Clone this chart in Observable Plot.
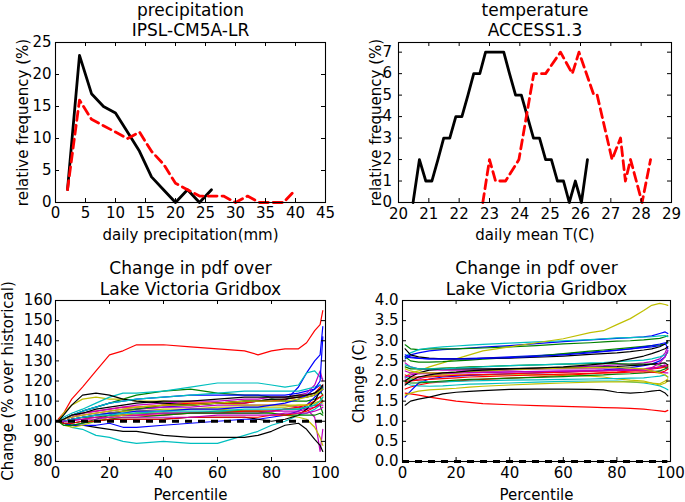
<!DOCTYPE html>
<html><head><meta charset="utf-8">
<script src="https://cdn.jsdelivr.net/npm/d3@7"></script>
<script src="https://cdn.jsdelivr.net/npm/@observablehq/plot@0.6"></script>
<style>
body{margin:0;background:#fff;}
#wrap{position:relative;width:685px;height:502px;overflow:hidden;background:#fff;}
#wrap > div{position:absolute;}
</style></head><body><div id="wrap"></div>
<script>
// ---------- top-left: precipitation pdf ----------
const PRECIP_HIST_X = [2,4,6,8,10,12,14,16,18,20,22,24,26];
const PRECIP_HIST   = [2,23,17,15,14,11,8,4,2,0,2,0,2];
const PRECIP_FUT_X  = [2,4,6,8,10,12,14,16,18,20,22,24,26,28,30,32,34,36,38,40];
const PRECIP_FUT    = [2,16,13,12,11,10,11,8,6,3,2,1,1,1,0,1,0,0,0,2];
const PRECIP_XTICKS = [0,5,10,15,20,25,30,35,40,45];
const PRECIP_YTICKS = [0,5,10,15,20,25];

// ---------- top-right: temperature pdf ----------
const TEMP_HIST_X = [20.48,20.69,20.90,21.10,21.30,21.49,21.69,21.89,22.09,22.29,22.48,22.68,22.87,23.07,23.27,23.47,23.66,23.86,24.05,24.25,24.45,24.65,24.85,25.04,25.24,25.44,25.63,25.83,26.03,26.23];
const TEMP_HIST   = [0,2,1,1,2,3,3,4,4,5,6,6,7,7,7,7,6,5,5,4,3,3,2,2,1,1,0,1,0,2];
const TEMP_FUT_X  = [22.78,23.00,23.20,23.53,23.97,24.46,24.85,25.34,25.73,25.95,26.44,26.55,27.04,27.32,27.48,27.65,28.03,28.31];
const TEMP_FUT    = [0,2,1,1,2,6,6,7,6,7,5,5,2,3,1,2,0,2];
const TEMP_XTICKS = [20,21,22,23,24,25,26,27,28,29];
const TEMP_YTICKS = [0,1,2,3,4,5,6,7];

// ---------- bottom panels: change in pdf by percentile ----------
const PCT = [1,3,6,10,15,20,25,30,40,50,60,70,75,80,85,90,93,96,98,99];
const PCT_TICKS = [0,20,40,60,80,100];
const PR_REF = 100;
const PR_YTICKS = [80,90,100,110,120,130,140,150,160];
const PR_NAMES = ["b1","g1","r1","c1","m1","y1","k1","b2","g2","r2","c2","m2","y2","k2","b3","g3","r3","c3","m3","y3","k3","b4","g4","r4","c4","m4","y4","k4"];
const PR_VALUES = [
 [100,100,101,102,103,104,105,106,107,108,109,109,110,110,110,117,124,130,133,147],
 [100,101,103,105,107,109,111,113,115,116,114,113,113,112,112,112,113,114,115,113],
 [101,104,111,117,125,133,135,138,138,137,136,135,133,135,136,136,139,145,148,155],
 [100,99,97,96,93,92,90,89,90,89,89,93,95,98,100,103,104,106,108,110],
 [100,101,102,103,104,105,106,106,107,107,108,108,108,108,108,107,106,102,85,96],
 [100,104,108,111,112,111,111,110,110,109,109,108,108,108,108,108,108,109,110,109],
 [100,99,98,98,97,96,95,95,93,92,92,92,93,95,98,99,96,91,88,85],
 [100,101,103,105,107,109,110,111,112,113,113,113,113,113,113,114,115,116,118,117],
 [100,99,98,99,101,103,105,106,108,108,109,110,110,111,110,110,110,111,112,110],
 [100,101,103,104,105,106,107,107,108,109,109,109,110,110,111,112,113,114,117,118],
 [100,102,104,106,109,112,114,114,115,117,119,119,119,118,117,118,124,125,122,121],
 [100,101,102,104,105,106,107,108,109,110,110,111,111,112,112,113,114,118,125,120],
 [100,100,101,102,103,104,105,105,106,106,106,105,105,104,103,102,101,97,92,88],
 [100,103,108,113,114,113,111,110,109,108,109,110,110,111,111,112,112,113,115,117],
 [100,99,98,98,98,99,97,97,98,99,100,101,101,102,103,105,108,112,114,116],
 [100,100,101,102,102,103,103,104,104,104,105,105,105,105,106,106,107,108,108,104],
 [100,100,101,101,102,102,103,103,103,104,104,105,105,105,106,107,108,110,112,113],
 [100,101,103,105,107,109,110,111,112,113,114,115,115,115,115,115,116,117,118,116],
 [100,100,101,101,102,102,103,103,104,104,104,104,104,105,105,105,106,107,108,108],
 [100,98,97,98,100,102,103,104,105,106,107,107,107,107,107,108,108,109,110,112],
 [100,99,99,100,100,101,101,101,101,102,102,102,101,100,101,103,106,110,115,116],
 [100,100,101,102,103,104,104,105,105,106,106,107,107,108,109,111,113,116,120,142],
 [100,98,98,99,100,101,102,102,103,104,104,104,104,104,103,103,103,103,104,103],
 [100,99,99,100,100,101,101,101,101,102,102,102,102,103,103,104,105,107,109,110],
 [100,100,101,102,103,103,104,104,105,105,105,106,106,106,106,106,107,108,110,112],
 [100,100,100,101,101,102,102,102,102,102,103,103,103,103,104,104,104,105,106,107],
 [100,101,102,103,104,105,106,107,108,108,109,110,110,110,110,111,112,113,115,116],
 [100,101,103,104,106,107,108,109,110,110,111,112,112,112,112,113,113,114,116,118]
];
const TAS_REF = 0;
const TAS_YTICKS = [0,0.5,1,1.5,2,2.5,3,3.5,4];
const TAS_NAMES = PR_NAMES;
const TAS_VALUES = [
 [2.55,2.65,2.7,2.75,2.78,2.8,2.82,2.84,2.88,2.93,2.98,3.02,3.04,3.06,3.08,3.1,3.12,3.18,3.22,3.18],
 [2.9,2.8,2.78,2.8,2.8,2.8,2.81,2.82,2.85,2.88,2.92,2.95,2.97,2.99,3.0,3.02,3.04,3.06,3.1,3.12],
 [1.7,1.68,1.65,1.6,1.55,1.5,1.47,1.44,1.41,1.39,1.37,1.35,1.34,1.33,1.32,1.3,1.28,1.26,1.24,1.27],
 [2.6,2.7,2.78,2.82,2.85,2.87,2.89,2.91,2.94,2.97,3.0,3.03,3.05,3.07,3.08,3.09,3.1,3.12,3.13,3.1],
 [2.05,2.0,2.05,2.12,2.17,2.2,2.22,2.24,2.27,2.3,2.33,2.37,2.38,2.4,2.42,2.45,2.48,2.55,2.7,2.85],
 [2.1,2.2,2.25,2.35,2.45,2.55,2.65,2.75,2.85,2.95,3.05,3.2,3.25,3.4,3.55,3.75,3.88,3.93,3.9,3.88],
 [1.4,1.5,1.55,1.6,1.68,1.72,1.74,1.76,1.79,1.8,1.8,1.79,1.78,1.72,1.7,1.72,1.75,1.77,1.7,1.63],
 [2.65,2.6,2.57,2.55,2.55,2.55,2.56,2.57,2.6,2.63,2.67,2.72,2.74,2.77,2.8,2.83,2.85,2.88,2.92,2.95],
 [2.6,2.5,2.47,2.47,2.48,2.5,2.52,2.54,2.58,2.62,2.68,2.74,2.77,2.8,2.83,2.86,2.88,2.9,2.92,2.95],
 [1.8,1.85,1.9,1.95,1.98,2.0,2.02,2.04,2.07,2.1,2.14,2.18,2.2,2.22,2.25,2.28,2.32,2.35,2.38,2.35],
 [1.95,1.9,1.88,1.87,1.88,1.9,1.92,1.93,1.95,1.97,1.99,2.0,2.0,2.0,1.98,1.95,1.92,1.88,1.82,1.78],
 [2.45,2.35,2.3,2.28,2.27,2.27,2.27,2.28,2.29,2.3,2.3,2.3,2.3,2.29,2.28,2.27,2.25,2.23,2.2,2.2],
 [2.0,2.05,2.1,2.12,2.15,2.15,2.15,2.15,2.15,2.15,2.15,2.12,2.1,2.05,2.02,2.0,1.95,1.93,2.0,2.05],
 [2.8,2.65,2.6,2.57,2.55,2.55,2.55,2.56,2.57,2.59,2.62,2.66,2.68,2.7,2.73,2.77,2.8,2.85,2.92,3.0],
 [1.6,1.75,1.95,2.05,2.1,2.12,2.14,2.16,2.18,2.2,2.22,2.25,2.27,2.3,2.33,2.38,2.42,2.5,2.6,2.75],
 [2.35,2.3,2.3,2.3,2.32,2.33,2.35,2.36,2.38,2.4,2.42,2.43,2.43,2.43,2.42,2.42,2.42,2.4,2.35,2.3],
 [2.15,2.1,2.1,2.1,2.12,2.14,2.15,2.16,2.18,2.2,2.22,2.24,2.25,2.26,2.27,2.28,2.3,2.32,2.35,2.4],
 [2.1,2.05,2.0,1.98,1.98,1.99,2.0,2.01,2.02,2.03,2.04,2.05,2.06,2.06,2.07,2.08,2.1,2.12,2.15,2.1],
 [2.1,2.15,2.18,2.2,2.2,2.21,2.22,2.22,2.23,2.24,2.25,2.26,2.26,2.27,2.27,2.28,2.3,2.35,2.4,2.3],
 [1.65,1.7,1.75,1.78,1.8,1.82,1.85,1.87,1.9,1.93,1.95,1.97,1.98,1.98,1.98,1.97,1.95,1.9,1.95,2.0],
 [2.0,2.1,2.2,2.27,2.3,2.3,2.3,2.3,2.31,2.32,2.33,2.34,2.35,2.36,2.38,2.4,2.42,2.44,2.45,2.4],
 [2.6,2.58,2.56,2.55,2.55,2.55,2.55,2.56,2.58,2.61,2.65,2.7,2.73,2.76,2.8,2.85,2.88,2.92,2.95,2.8],
 [2.0,1.95,1.95,1.97,2.0,2.02,2.04,2.05,2.07,2.09,2.11,2.14,2.15,2.17,2.18,2.2,2.22,2.25,2.3,2.35],
 [1.95,2.0,2.02,2.04,2.06,2.08,2.1,2.11,2.13,2.15,2.17,2.19,2.2,2.21,2.22,2.23,2.22,2.2,2.25,2.3],
 [2.4,2.35,2.3,2.3,2.3,2.32,2.33,2.35,2.38,2.4,2.42,2.45,2.46,2.48,2.5,2.52,2.55,2.6,2.65,2.7],
 [2.25,2.2,2.18,2.18,2.19,2.2,2.2,2.21,2.22,2.23,2.24,2.25,2.26,2.27,2.28,2.3,2.33,2.45,2.6,2.75],
 [2.3,2.25,2.2,2.2,2.2,2.22,2.24,2.25,2.28,2.3,2.32,2.33,2.33,2.33,2.32,2.3,2.25,2.2,2.15,2.1],
 [1.9,2.0,2.1,2.15,2.2,2.22,2.25,2.27,2.3,2.32,2.35,2.4,2.43,2.48,2.55,2.62,2.68,2.75,2.8,2.85]
];

// ---------- rendering ----------
const CYCLE = {b:"#0000ff", g:"#008000", r:"#ff0000", c:"#00bfbf", m:"#bf00bf", y:"#bfbf00", k:"#000000"};
const FONT = "DejaVu Sans, Bitstream Vera Sans, sans-serif";
const wrap = document.getElementById("wrap");

function panel(o) {
  const innerW = o.width - o.ml - o.mr;
  const innerH = o.height - o.mt - o.mb;
  const svg = Plot.plot({
    width: o.width, height: o.height,
    marginLeft: o.ml, marginRight: o.mr, marginTop: o.mt, marginBottom: o.mb,
    x: {domain: o.xDomain, axis: null},
    y: {domain: o.yDomain, axis: null},
    style: {fontFamily: FONT, fontSize: "15px", color: "black", background: "white", overflow: "visible"},
    marks: [
      ...o.marks,
      Plot.frame({stroke: "black", strokeWidth: 1.1}),
      Plot.ruleX(o.xTicks, {x: d => d, insetTop: innerH - 4, stroke: "black", strokeWidth: 1}),
      Plot.ruleX(o.xTicks, {x: d => d, insetBottom: innerH - 4, stroke: "black", strokeWidth: 1}),
      Plot.ruleY(o.yTicks, {y: d => d, insetRight: innerW - 4, stroke: "black", strokeWidth: 1}),
      Plot.ruleY(o.yTicks, {y: d => d, insetLeft: innerW - 4, stroke: "black", strokeWidth: 1}),
      Plot.axisX({ticks: o.xTicks, tickSize: 0, tickPadding: o.xPad, label: null, tickFormat: o.xFormat || (d => String(d))}),
      Plot.axisY({ticks: o.yTicks, tickSize: 0, tickPadding: o.yPad, label: null, tickFormat: o.yFormat || (d => String(d))}),
      Plot.text([o.title], {frameAnchor: "top", textAnchor: "middle", lineAnchor: "bottom", dy: o.titleDy, fontSize: 17, lineHeight: 1.19, fill: "black"}),
      Plot.text([o.xLabel], {frameAnchor: "bottom", textAnchor: "middle", lineAnchor: "bottom", dy: o.xLabelDy, fontSize: 15, fill: "black"}),
      Plot.text([o.yLabel], {frameAnchor: "left", textAnchor: "middle", lineAnchor: "bottom", rotate: -90, dx: o.yLabelDx, fontSize: 15, fill: "black"})
    ]
  });
  const div = document.createElement("div");
  div.style.left = o.left + "px";
  div.style.top = o.top + "px";
  div.appendChild(svg);
  wrap.appendChild(div);
}

const series = (xs, ys) => xs.map((x, i) => ({x, y: ys[i]}));

function changeLines(names, values, ref) {
  const marks = names.map((n, i) => Plot.line(series(PCT, values[i]), {x: "x", y: "y", stroke: CYCLE[n[0]], strokeWidth: 1.2}));
  marks.push(Plot.ruleY([ref], {x1: 0, x2: 99, stroke: "black", strokeWidth: 3, strokeDasharray: "7,6"}));
  return marks;
}

panel({
  left: 0, top: 0, width: 342, height: 250, ml: 55, mr: 17, mt: 42, mb: 48,
  xDomain: [0, 45], yDomain: [0, 25], xTicks: PRECIP_XTICKS, yTicks: PRECIP_YTICKS,
  xPad: 5, yPad: 4,
  title: "precipitation\nIPSL-CM5A-LR", titleDy: -6.5,
  xLabel: "daily precipitation(mm)", xLabelDy: 37.5,
  yLabel: "relative frequency (%)", yLabelDx: -27.5,
  marks: [
    Plot.line(series(PRECIP_HIST_X, PRECIP_HIST), {x: "x", y: "y", stroke: "black", strokeWidth: 2.8}),
    Plot.line(series(PRECIP_FUT_X, PRECIP_FUT), {x: "x", y: "y", stroke: "#ff0000", strokeWidth: 2.8, strokeDasharray: "9,5"})
  ]
});

panel({
  left: 342, top: 0, width: 343, height: 250, ml: 56, mr: 14, mt: 42, mb: 48,
  xDomain: [20, 29], yDomain: [0, 7.45], xTicks: TEMP_XTICKS, yTicks: TEMP_YTICKS,
  xPad: 6, yPad: 6.5,
  title: "temperature\nACCESS1.3", titleDy: -6.5,
  xLabel: "daily mean T(C)", xLabelDy: 37.5,
  yLabel: "relative frequency (%)", yLabelDx: -18,
  marks: [
    Plot.line(series(TEMP_HIST_X, TEMP_HIST), {x: "x", y: "y", stroke: "black", strokeWidth: 2.8}),
    Plot.line(series(TEMP_FUT_X, TEMP_FUT), {x: "x", y: "y", stroke: "#ff0000", strokeWidth: 2.8, strokeDasharray: "9,5"})
  ]
});

panel({
  left: 0, top: 250, width: 342, height: 252, ml: 55, mr: 17, mt: 50, mb: 41,
  xDomain: [0, 100], yDomain: [80, 160], xTicks: PCT_TICKS, yTicks: PR_YTICKS,
  xPad: 5.5, yPad: 3,
  title: "Change in pdf over\nLake Victoria Gridbox", titleDy: -6,
  xLabel: "Percentile", xLabelDy: 38,
  yLabel: "Change (% over historical)", yLabelDx: -42.5,
  marks: changeLines(PR_NAMES, PR_VALUES, PR_REF)
});

panel({
  left: 342, top: 250, width: 343, height: 252, ml: 60, mr: 15, mt: 50, mb: 41,
  xDomain: [0, 100], yDomain: [0, 4], xTicks: PCT_TICKS, yTicks: TAS_YTICKS,
  xPad: 5.5, yPad: 4, yFormat: d => d.toFixed(1),
  title: "Change in pdf over\nLake Victoria Gridbox", titleDy: -6,
  xLabel: "Percentile", xLabelDy: 38,
  yLabel: "Change (C)", yLabelDx: -39,
  marks: changeLines(TAS_NAMES, TAS_VALUES, TAS_REF)
});
</script>
</body></html>
